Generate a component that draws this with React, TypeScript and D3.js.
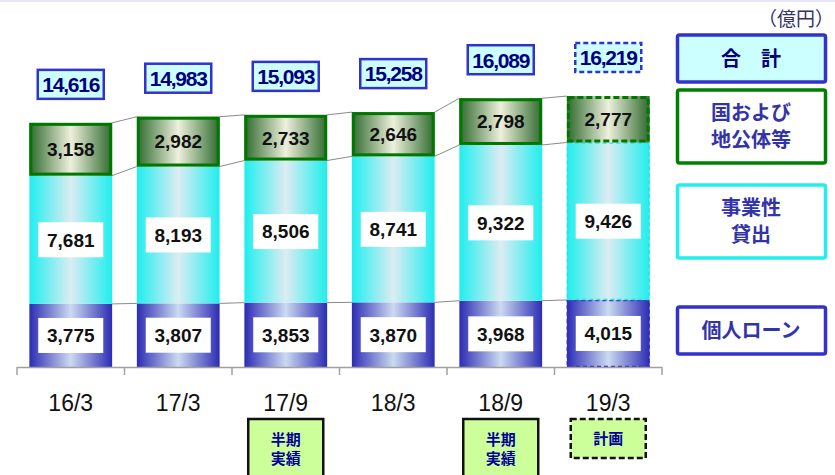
import React, { useEffect, useRef } from 'react';
import * as d3 from 'd3';

// 期末ごとの貸出金残高（億円）
const periods = ['16/3', '17/3', '17/9', '18/3', '18/9', '19/3'];
const personalLoans = [3775, 3807, 3853, 3870, 3968, 4015];
const businessLoans = [7681, 8193, 8506, 8741, 9322, 9426];
const publicLoans = [3158, 2982, 2733, 2646, 2798, 2777];
const totals = [14616, 14983, 15093, 15258, 16089, 16219];
const notes = ['', '', '半期\n実績', '', '半期\n実績', '計画'];
const planIndex = 5;

const legendNames = ['合　計', '国および\n地公体等', '事業性\n貸出', '個人ローン'];
const unitLabel = '（億円）';

const JP = "'Noto Sans CJK JP', 'Liberation Sans', sans-serif";
const NUM = "'Liberation Sans', Arial, sans-serif";

const App = () => {
  const ref = useRef<SVGSVGElement>(null);

  useEffect(() => {
    drawChart();
  }, []);

  const drawChart = () => {
    const svg = d3.select(ref.current);
    svg.selectAll('*').remove();

    const width = 835;
    const height = 475;
    const base = 367;

    svg.attr('width', width).attr('height', height);

    svg.append('rect').attr('x', 0).attr('y', 0).attr('width', width).attr('height', 2).attr('fill', '#e6e6f6');

    // グラデーション
    const defs = svg.append('defs');
    const grad = (id, edge, mid) => {
      const g = defs.append('linearGradient').attr('id', id).attr('x1', '0%').attr('x2', '100%').attr('y1', '0%').attr('y2', '0%');
      g.append('stop').attr('offset', '0%').attr('stop-color', edge);
      g.append('stop').attr('offset', '50%').attr('stop-color', mid);
      g.append('stop').attr('offset', '100%').attr('stop-color', edge);
    };
    grad('gPersonal', '#2c2cb4', '#cbdaf0');
    grad('gBusiness', '#20eeee', '#dcecf2');
    grad('gPublic', '#2f6a2f', '#eef0dc');

    const x = d3.scaleBand()
      .domain(periods)
      .range([17, 662])
      .paddingInner(0.23)
      .paddingOuter(0.115);

    const y = d3.scaleLinear()
      .domain([0, 17000])
      .range([base, 83]);

    const rows = periods.map((p, i) => ({
      period: p,
      personal: personalLoans[i],
      business: businessLoans[i],
      public: publicLoans[i],
    }));
    const stack = d3.stack().keys(['personal', 'business', 'public'])(rows);

    const bw = x.bandwidth();

    // 接続線
    stack.forEach(layer => {
      for (let i = 0; i < layer.length - 1; i++) {
        svg.append('line')
          .attr('x1', x(periods[i]) + bw)
          .attr('x2', x(periods[i + 1]))
          .attr('y1', y(layer[i][1]))
          .attr('y2', y(layer[i + 1][1]))
          .attr('stroke', '#8a8a8a')
          .attr('stroke-width', 1);
      }
    });

    const fills = { personal: 'url(#gPersonal)', business: 'url(#gBusiness)', public: 'url(#gPublic)' };
    const strokes = { personal: '#3030c0', business: '#30e0e0', public: '#007800' };

    stack.forEach(layer => {
      const key = layer.key;
      layer.forEach((d, i) => {
        const x0 = x(periods[i]);
        const y0 = y(d[1]);
        const h = y(d[0]) - y(d[1]);
        const isPlan = i === planIndex;
        svg.append('rect')
          .attr('x', x0)
          .attr('y', y0)
          .attr('width', bw)
          .attr('height', h)
          .attr('fill', fills[key]);
        if (key === 'public') {
          svg.append('rect')
            .attr('x', x0 + 1.5)
            .attr('y', y0 + 1.5)
            .attr('width', bw - 3)
            .attr('height', h - 3)
            .attr('fill', 'none')
            .attr('stroke', strokes[key])
            .attr('stroke-width', 3)
            .attr('stroke-dasharray', isPlan ? '6,3' : null);
        } else if (isPlan) {
          svg.append('rect')
            .attr('x', x0 + 0.5)
            .attr('y', y0 + 0.5)
            .attr('width', bw - 1)
            .attr('height', h - 1)
            .attr('fill', 'none')
            .attr('stroke', strokes[key])
            .attr('stroke-width', 1.5)
            .attr('stroke-dasharray', '4,3');
        }

        const cx = x0 + bw / 2;
        const cy = y0 + h / 2;
        if (key !== 'public') {
          svg.append('rect')
            .attr('x', cx - 32.5)
            .attr('y', cy - 17.5)
            .attr('width', 65)
            .attr('height', 35)
            .attr('fill', '#ffffff');
        }
        svg.append('text')
          .attr('x', cx)
          .attr('y', cy)
          .attr('dy', '0.36em')
          .attr('text-anchor', 'middle')
          .style('font-family', NUM)
          .style('font-weight', 'bold')
          .style('font-size', '19px')
          .style('fill', '#111')
          .text(d3.format(',')(d.data[key]));
      });
    });

    // 合計ラベル
    totals.forEach((t, i) => {
      const cx = x(periods[i]) + bw / 2;
      const top = y(stack[2][i][1]);
      const bh = 29;
      const bwid = 66;
      svg.append('rect')
        .attr('x', cx - bwid / 2)
        .attr('y', top - 24 - bh)
        .attr('width', bwid)
        .attr('height', bh)
        .attr('fill', '#ccffff')
        .attr('stroke', '#3333cc')
        .attr('stroke-width', 2.5)
        .attr('stroke-dasharray', i === planIndex ? '5,3' : null);
      svg.append('text')
        .attr('x', cx)
        .attr('y', top - 24 - bh / 2)
        .attr('dy', '0.37em')
        .attr('text-anchor', 'middle')
        .style('font-family', NUM)
        .style('font-weight', 'bold')
        .style('font-size', '21px')
        .style('letter-spacing', '-1.2px')
        .style('fill', '#000080')
        .text(d3.format(',')(t));
    });

    // 軸
    svg.append('line')
      .attr('x1', 17).attr('x2', 662)
      .attr('y1', base + 0.5).attr('y2', base + 0.5)
      .attr('stroke', '#a0a0a0').attr('stroke-width', 1.5);
    d3.range(periods.length + 1).forEach(k => {
      const tx = 17 + k * x.step();
      svg.append('line')
        .attr('x1', tx).attr('x2', tx)
        .attr('y1', base).attr('y2', base + 8)
        .attr('stroke', '#a0a0a0').attr('stroke-width', 1.5);
    });
    periods.forEach(p => {
      svg.append('text')
        .attr('x', x(p) + bw / 2)
        .attr('y', 411)
        .attr('text-anchor', 'middle')
        .style('font-family', NUM)
        .style('font-size', '23px')
        .style('fill', '#111')
        .text(p);
    });

    // 注記
    notes.forEach((n, i) => {
      if (!n) return;
      const cx = x(periods[i]) + bw / 2;
      const lines = n.split('\n');
      const isPlan = i === planIndex;
      const boxH = isPlan ? 39 : 70;
      svg.append('rect')
        .attr('x', cx - 37.5)
        .attr('y', 419)
        .attr('width', 75)
        .attr('height', boxH)
        .attr('fill', '#ccff99')
        .attr('stroke', '#111')
        .attr('stroke-width', 2.5)
        .attr('stroke-dasharray', isPlan ? '6,3' : null);
      lines.forEach((l, j) => {
        svg.append('text')
          .attr('x', cx)
          .attr('y', (isPlan ? 439 : 440 + j * 19))
          .attr('dy', '0.36em')
          .attr('text-anchor', 'middle')
          .style('font-family', JP)
          .style('font-weight', 'bold')
          .style('font-size', '15px')
          .style('fill', '#000099')
          .text(l);
      });
    });

    // 凡例
    const legendBoxes = [
      { y: 35, h: 47, stroke: '#3333cc', fill: '#ccffff', color: '#000080' },
      { y: 90, h: 73, stroke: '#008000', fill: '#ffffff', color: '#3333aa' },
      { y: 185, h: 73, stroke: '#22eeee', fill: '#ffffff', color: '#3333aa' },
      { y: 307, h: 47, stroke: '#3333cc', fill: '#ffffff', color: '#3333aa' },
    ];
    legendNames.forEach((name, i) => {
      const b = legendBoxes[i];
      svg.append('rect')
        .attr('x', 677.5)
        .attr('y', b.y)
        .attr('width', 148)
        .attr('height', b.h)
        .attr('rx', 2)
        .attr('fill', b.fill)
        .attr('stroke', b.stroke)
        .attr('stroke-width', 3.5);
      const lines = name.split('\n');
      lines.forEach((l, j) => {
        svg.append('text')
          .attr('x', 751)
          .attr('y', b.y + b.h / 2 + (j - (lines.length - 1) / 2) * 27)
          .attr('dy', '0.36em')
          .attr('text-anchor', 'middle')
          .style('font-family', JP)
          .style('font-weight', 'bold')
          .style('font-size', '20px')
          .style('fill', b.color)
          .text(l);
      });
    });

    svg.append('text')
      .attr('x', 834)
      .attr('y', 19)
      .attr('dy', '0.36em')
      .attr('text-anchor', 'end')
      .style('font-family', JP)
      .style('font-size', '19px')
      .style('fill', '#333366')
      .text(unitLabel);
  };

  return (
    <svg ref={ref} style={{ position: 'absolute', left: 0, top: 0, background: '#fff' }} />
  );
};

export default App;
